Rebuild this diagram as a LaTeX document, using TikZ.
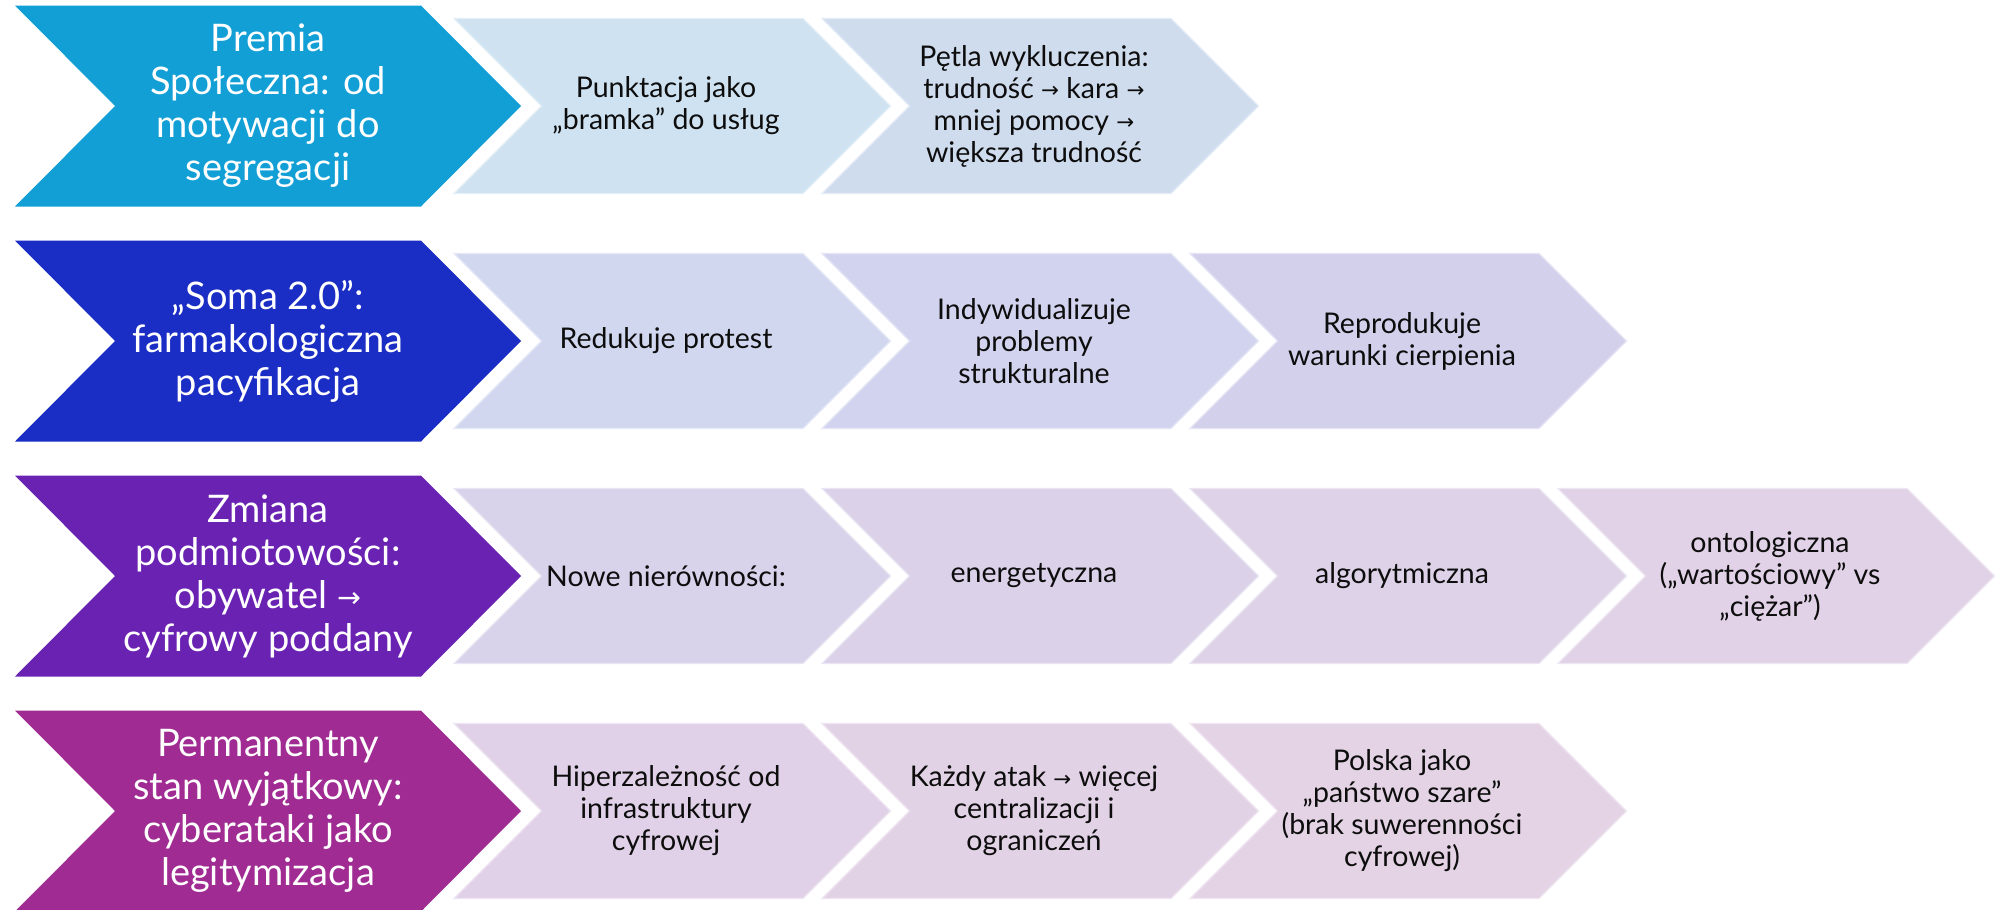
\documentclass[tikz,border=0pt]{standalone}
\usepackage{fontspec}
\setmainfont{Lato}
\newfontfamily\arrowfont{DejaVu Sans}
\newcommand{\rarr}{\raisebox{0.02em}{\scalebox{0.75}{\arrowfont →}}}
\definecolor{mainA}{HTML}{129FD6}
\definecolor{mainB}{HTML}{1A2DC4}
\definecolor{mainC}{HTML}{6A22B2}
\definecolor{mainD}{HTML}{A02B92}
\definecolor{secA1}{HTML}{CFE2F1}
\definecolor{secA2}{HTML}{CFDCEE}
\definecolor{secB1}{HTML}{D1D7EF}
\definecolor{secB2}{HTML}{D2D3EE}
\definecolor{secB3}{HTML}{D3D0EC}
\definecolor{secC1}{HTML}{D8D2EB}
\definecolor{secC2}{HTML}{DBD2EA}
\definecolor{secC3}{HTML}{DED2E8}
\definecolor{secC4}{HTML}{E1D2E7}
\definecolor{secD1}{HTML}{E1D1E8}
\definecolor{secD2}{HTML}{E2D2E6}
\definecolor{secD3}{HTML}{E3D3E5}
\definecolor{txt}{HTML}{0D0D0D}
\tikzset{
  maintext/.style={align=center, text=white, inner sep=0pt, font=\fontsize{38}{43}\selectfont},
  sectext/.style={align=center, text=txt, inner sep=0pt, font=\fontsize{28.5}{32}\selectfont},
}
\newcommand{\mainchev}[4]{%
  \fill[#3] (15,#2-100.5) -- (421,#2-100.5) -- (521,#2) -- (421,#2+100.5) -- (15,#2+100.5) -- (115,#2) -- cycle;
  \node[maintext] (#1) at (268,#2) {#4};
}
\newcommand{\secchev}[5]{%
  \filldraw[fill=#4, draw=#4!55!white, line width=1.2pt, line join=miter]
    (#2,#3-87.5) -- (#2+349,#3-87.5) -- (#2+436.5,#3) -- (#2+349,#3+87.5) -- (#2,#3+87.5) -- (#2+87.5,#3) -- cycle;
  \node[sectext] (#1) at (#2+212,#3) {#5};
}
\begin{document}
\begin{tikzpicture}[x=1pt,y=-1pt]
\useasboundingbox[fill=white] (0,0) rectangle (1995,910);
% row 1
\mainchev{mA}{106}{mainA}{Premia\\Społeczna: od\\motywacji do\\segregacji}
\secchev{sA1}{454}{106}{secA1}{Punktacja jako\\„bramka” do usług}
\secchev{sA2}{822}{106}{secA2}{Pętla wykluczenia:\\trudność \rarr{} kara \rarr\\mniej pomocy \rarr\\większa trudność}
% row 2
\mainchev{mB}{341}{mainB}{„Soma 2.0”:\\farmakologiczna\\pacyfikacja}
\secchev{sB1}{454}{341}{secB1}{Redukuje protest}
\secchev{sB2}{822}{341}{secB2}{Indywidualizuje\\problemy\\strukturalne}
\secchev{sB3}{1190}{341}{secB3}{Reprodukuje\\warunki cierpienia}
% row 3
\mainchev{mC}{576}{mainC}{Zmiana\\podmiotowości:\\obywatel \rarr\\cyfrowy poddany}
\secchev{sC1}{454}{576}{secC1}{Nowe nierówności:}
\secchev{sC2}{822}{576}{secC2}{energetyczna}
\secchev{sC3}{1190}{576}{secC3}{algorytmiczna}
\secchev{sC4}{1558}{576}{secC4}{ontologiczna\\(„wartościowy” vs\\„ciężar”)}
% row 4
\mainchev{mD}{811}{mainD}{Permanentny\\stan wyjątkowy:\\cyberataki jako\\legitymizacja}
\secchev{sD1}{454}{811}{secD1}{Hiperzależność od\\infrastruktury\\cyfrowej}
\secchev{sD2}{822}{811}{secD2}{Każdy atak \rarr{} więcej\\centralizacji i\\ograniczeń}
\secchev{sD3}{1190}{811}{secD3}{Polska jako\\„państwo szare”\\(brak suwerenności\\cyfrowej)}
\end{tikzpicture}
\end{document}
